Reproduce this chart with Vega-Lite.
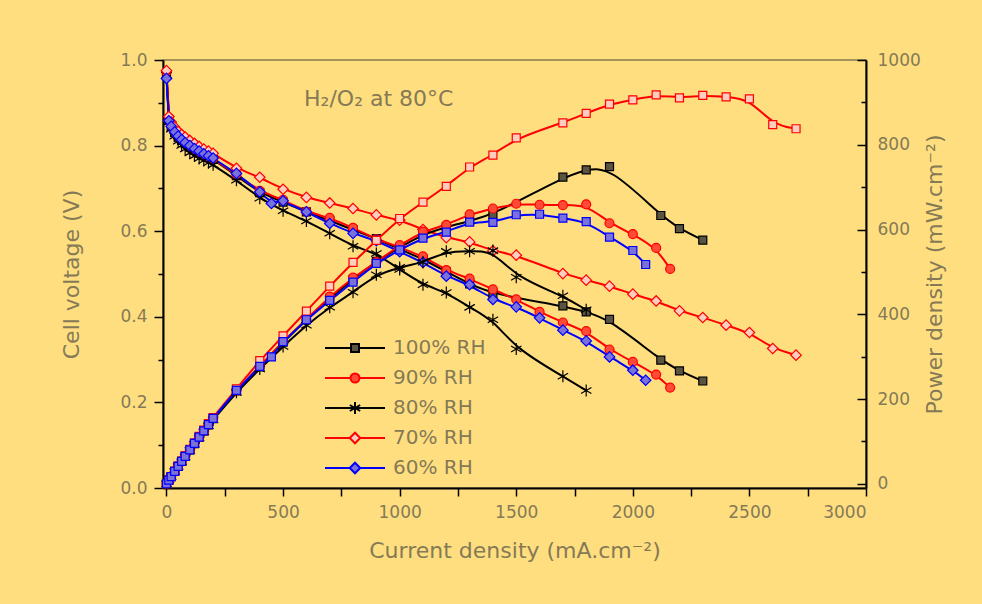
{
"$schema": "https://vega.github.io/schema/vega-lite/v6.json",
"width": 703, "height": 428,
"autosize": {"type": "none"},
"padding": {"left": 163, "top": 60, "right": 116, "bottom": 116},
"background": "#FFDE80",
"config": {
 "view": {"stroke": "#857A4E", "strokeWidth": 1.5},
 "axis": {"grid": false, "labelFont": "DejaVu Sans", "titleFont": "DejaVu Sans", "labelColor": "#857A55", "titleColor": "#857A55", "labelFontSize": 17, "titleFontSize": 22, "titleFontWeight": "normal", "domainColor": "#000000", "tickColor": "#000000", "domainWidth": 2, "tickWidth": 1.5},
 "legend": {"orient": "none", "legendX": 207, "legendY": 278, "labelFont": "DejaVu Sans", "labelFontSize": 20, "labelColor": "#857A55", "symbolSize": 100, "symbolStrokeWidth": 2, "rowPadding": 10, "labelOffset": 3, "padding": 0, "symbolOpacity": 1}
},
"datasets": {
 "ann": [{"label": "H₂/O₂ at 80°C", "I": 590, "V": 0.893}],
 "pts": [
{"rh":"100% RH","I":0,"V":0.968,"P":0},{"rh":"100% RH","I":10,"V":0.86,"P":8.6},{"rh":"100% RH","I":20,"V":0.845,"P":16.9},{"rh":"100% RH","I":35,"V":0.83,"P":29.1},{"rh":"100% RH","I":50,"V":0.82,"P":41},{"rh":"100% RH","I":65,"V":0.812,"P":52.8},{"rh":"100% RH","I":80,"V":0.805,"P":64.4},{"rh":"100% RH","I":100,"V":0.797,"P":79.7},{"rh":"100% RH","I":120,"V":0.79,"P":94.8},{"rh":"100% RH","I":140,"V":0.784,"P":109.8},{"rh":"100% RH","I":160,"V":0.778,"P":124.5},{"rh":"100% RH","I":180,"V":0.773,"P":139.1},{"rh":"100% RH","I":200,"V":0.768,"P":153.6},{"rh":"100% RH","I":300,"V":0.73,"P":219},{"rh":"100% RH","I":400,"V":0.69,"P":276},{"rh":"100% RH","I":500,"V":0.668,"P":334},{"rh":"100% RH","I":600,"V":0.645,"P":387},{"rh":"100% RH","I":700,"V":0.625,"P":437.5},{"rh":"100% RH","I":800,"V":0.603,"P":482.4},{"rh":"100% RH","I":900,"V":0.583,"P":524.7},{"rh":"100% RH","I":1000,"V":0.558,"P":558},{"rh":"100% RH","I":1100,"V":0.535,"P":588.5},{"rh":"100% RH","I":1200,"V":0.505,"P":606},{"rh":"100% RH","I":1300,"V":0.477,"P":620.1},{"rh":"100% RH","I":1400,"V":0.453,"P":634.2},{"rh":"100% RH","I":1700,"V":0.4255,"P":723.4},{"rh":"100% RH","I":1800,"V":0.4115,"P":740.7},{"rh":"100% RH","I":1900,"V":0.394,"P":748.6},{"rh":"100% RH","I":2120,"V":0.2986,"P":633},{"rh":"100% RH","I":2200,"V":0.2736,"P":601.9},{"rh":"100% RH","I":2300,"V":0.25,"P":575},
{"rh":"90% RH","I":0,"V":0.972,"P":0},{"rh":"90% RH","I":10,"V":0.865,"P":8.7},{"rh":"90% RH","I":20,"V":0.848,"P":17},{"rh":"90% RH","I":35,"V":0.833,"P":29.2},{"rh":"90% RH","I":50,"V":0.822,"P":41.1},{"rh":"90% RH","I":65,"V":0.814,"P":52.9},{"rh":"90% RH","I":80,"V":0.807,"P":64.6},{"rh":"90% RH","I":100,"V":0.799,"P":79.9},{"rh":"90% RH","I":120,"V":0.792,"P":95},{"rh":"90% RH","I":140,"V":0.786,"P":110},{"rh":"90% RH","I":160,"V":0.78,"P":124.8},{"rh":"90% RH","I":180,"V":0.775,"P":139.5},{"rh":"90% RH","I":200,"V":0.77,"P":154},{"rh":"90% RH","I":300,"V":0.732,"P":219.6},{"rh":"90% RH","I":400,"V":0.694,"P":277.6},{"rh":"90% RH","I":500,"V":0.673,"P":336.5},{"rh":"90% RH","I":600,"V":0.646,"P":387.6},{"rh":"90% RH","I":700,"V":0.631,"P":441.7},{"rh":"90% RH","I":800,"V":0.608,"P":486.4},{"rh":"90% RH","I":900,"V":0.581,"P":522.9},{"rh":"90% RH","I":1000,"V":0.563,"P":563},{"rh":"90% RH","I":1100,"V":0.541,"P":595.1},{"rh":"90% RH","I":1200,"V":0.509,"P":610.8},{"rh":"90% RH","I":1300,"V":0.489,"P":635.7},{"rh":"90% RH","I":1400,"V":0.464,"P":649.6},{"rh":"90% RH","I":1500,"V":0.4405,"P":660.8},{"rh":"90% RH","I":1600,"V":0.4115,"P":658.4},{"rh":"90% RH","I":1700,"V":0.3867,"P":657.4},{"rh":"90% RH","I":1800,"V":0.3664,"P":659.5},{"rh":"90% RH","I":1900,"V":0.3236,"P":614.8},{"rh":"90% RH","I":2000,"V":0.2946,"P":589.2},{"rh":"90% RH","I":2100,"V":0.265,"P":556.5},{"rh":"90% RH","I":2160,"V":0.2347,"P":507},
{"rh":"80% RH","I":0,"V":0.965,"P":0},{"rh":"80% RH","I":10,"V":0.855,"P":8.6},{"rh":"80% RH","I":20,"V":0.838,"P":16.8},{"rh":"80% RH","I":35,"V":0.822,"P":28.8},{"rh":"80% RH","I":50,"V":0.81,"P":40.5},{"rh":"80% RH","I":65,"V":0.8,"P":52},{"rh":"80% RH","I":80,"V":0.792,"P":63.4},{"rh":"80% RH","I":100,"V":0.783,"P":78.3},{"rh":"80% RH","I":120,"V":0.776,"P":93.1},{"rh":"80% RH","I":140,"V":0.77,"P":107.8},{"rh":"80% RH","I":160,"V":0.765,"P":122.4},{"rh":"80% RH","I":180,"V":0.76,"P":136.8},{"rh":"80% RH","I":200,"V":0.755,"P":151},{"rh":"80% RH","I":300,"V":0.719,"P":215.7},{"rh":"80% RH","I":400,"V":0.677,"P":270.8},{"rh":"80% RH","I":500,"V":0.648,"P":324},{"rh":"80% RH","I":600,"V":0.6236,"P":374.2},{"rh":"80% RH","I":700,"V":0.595,"P":416.5},{"rh":"80% RH","I":800,"V":0.565,"P":452},{"rh":"80% RH","I":900,"V":0.548,"P":493.2},{"rh":"80% RH","I":1000,"V":0.5106,"P":510.6},{"rh":"80% RH","I":1100,"V":0.475,"P":522.5},{"rh":"80% RH","I":1200,"V":0.457,"P":548.4},{"rh":"80% RH","I":1300,"V":0.422,"P":548.6},{"rh":"80% RH","I":1400,"V":0.393,"P":550.2},{"rh":"80% RH","I":1500,"V":0.325,"P":487.5},{"rh":"80% RH","I":1700,"V":0.261,"P":443.7},{"rh":"80% RH","I":1800,"V":0.228,"P":410.4},
{"rh":"70% RH","I":0,"V":0.975,"P":0},{"rh":"70% RH","I":10,"V":0.868,"P":8.7},{"rh":"70% RH","I":20,"V":0.855,"P":17.1},{"rh":"70% RH","I":35,"V":0.843,"P":29.5},{"rh":"70% RH","I":50,"V":0.833,"P":41.7},{"rh":"70% RH","I":65,"V":0.826,"P":53.7},{"rh":"70% RH","I":80,"V":0.82,"P":65.6},{"rh":"70% RH","I":100,"V":0.812,"P":81.2},{"rh":"70% RH","I":120,"V":0.805,"P":96.6},{"rh":"70% RH","I":140,"V":0.798,"P":111.7},{"rh":"70% RH","I":160,"V":0.792,"P":126.7},{"rh":"70% RH","I":180,"V":0.787,"P":141.7},{"rh":"70% RH","I":200,"V":0.782,"P":156.4},{"rh":"70% RH","I":300,"V":0.747,"P":224.1},{"rh":"70% RH","I":400,"V":0.726,"P":290.4},{"rh":"70% RH","I":500,"V":0.698,"P":349},{"rh":"70% RH","I":600,"V":0.679,"P":407.4},{"rh":"70% RH","I":700,"V":0.666,"P":466.2},{"rh":"70% RH","I":800,"V":0.653,"P":522.4},{"rh":"70% RH","I":900,"V":0.638,"P":574.2},{"rh":"70% RH","I":1000,"V":0.626,"P":626},{"rh":"70% RH","I":1100,"V":0.604,"P":664.4},{"rh":"70% RH","I":1200,"V":0.585,"P":702},{"rh":"70% RH","I":1300,"V":0.575,"P":747.5},{"rh":"70% RH","I":1400,"V":0.554,"P":775.6},{"rh":"70% RH","I":1500,"V":0.544,"P":816},{"rh":"70% RH","I":1700,"V":0.501,"P":851.7},{"rh":"70% RH","I":1800,"V":0.4856,"P":874.1},{"rh":"70% RH","I":1900,"V":0.4716,"P":896},{"rh":"70% RH","I":2000,"V":0.4529,"P":905.8},{"rh":"70% RH","I":2100,"V":0.437,"P":917.7},{"rh":"70% RH","I":2200,"V":0.4139,"P":910.6},{"rh":"70% RH","I":2300,"V":0.3984,"P":916.3},{"rh":"70% RH","I":2400,"V":0.3804,"P":913},{"rh":"70% RH","I":2500,"V":0.3633,"P":908.3},{"rh":"70% RH","I":2600,"V":0.3259,"P":847.3},{"rh":"70% RH","I":2700,"V":0.3103,"P":837.8},
{"rh":"60% RH","I":0,"V":0.957,"P":0},{"rh":"60% RH","I":10,"V":0.858,"P":8.6},{"rh":"60% RH","I":20,"V":0.845,"P":16.9},{"rh":"60% RH","I":35,"V":0.832,"P":29.1},{"rh":"60% RH","I":50,"V":0.822,"P":41.1},{"rh":"60% RH","I":65,"V":0.814,"P":52.9},{"rh":"60% RH","I":80,"V":0.807,"P":64.6},{"rh":"60% RH","I":100,"V":0.8,"P":80},{"rh":"60% RH","I":120,"V":0.793,"P":95.2},{"rh":"60% RH","I":140,"V":0.787,"P":110.2},{"rh":"60% RH","I":160,"V":0.781,"P":125},{"rh":"60% RH","I":180,"V":0.776,"P":139.7},{"rh":"60% RH","I":200,"V":0.771,"P":154.2},{"rh":"60% RH","I":300,"V":0.735,"P":220.5},{"rh":"60% RH","I":400,"V":0.692,"P":276.8},{"rh":"60% RH","I":450,"V":0.665,"P":299.3},{"rh":"60% RH","I":500,"V":0.671,"P":335.5},{"rh":"60% RH","I":600,"V":0.645,"P":387},{"rh":"60% RH","I":700,"V":0.618,"P":432.6},{"rh":"60% RH","I":800,"V":0.595,"P":476},{"rh":"60% RH","I":900,"V":0.578,"P":520.2},{"rh":"60% RH","I":1000,"V":0.552,"P":552},{"rh":"60% RH","I":1100,"V":0.527,"P":579.7},{"rh":"60% RH","I":1200,"V":0.495,"P":594},{"rh":"60% RH","I":1300,"V":0.475,"P":617.5},{"rh":"60% RH","I":1400,"V":0.4405,"P":616.7},{"rh":"60% RH","I":1500,"V":0.4232,"P":634.8},{"rh":"60% RH","I":1600,"V":0.3975,"P":636},{"rh":"60% RH","I":1700,"V":0.3687,"P":626.8},{"rh":"60% RH","I":1800,"V":0.3437,"P":618.7},{"rh":"60% RH","I":1900,"V":0.3063,"P":582},{"rh":"60% RH","I":2000,"V":0.2752,"P":550.4},{"rh":"60% RH","I":2055,"V":0.2518,"P":517.4}
 ]
},
"data": {"name": "pts"},
"layer": [
 {
  "layer": [
   {
    "mark": {"type": "line", "interpolate": "basis", "strokeWidth": 2},
    "encoding": {
     "x": {"field": "I", "type": "quantitative", "scale": {"domain": [-15, 3000], "nice": false, "zero": false}, "axis": {"values": [0,250,500,750,1000,1250,1500,1750,2000,2250,2500,2750,3000], "format": "d", "labelExpr": "datum.value % 500 == 0 ? datum.label : ''", "tickSize": 8, "labelPadding": 8, "title": "Current density (mA.cm⁻²)", "titlePadding": 20}},
     "y": {"field": "V", "type": "quantitative", "scale": {"domain": [0, 1], "nice": false}, "axis": {"values": [0,0.1,0.2,0.3,0.4,0.5,0.6,0.7,0.8,0.9,1.0], "format": ".1f", "labelExpr": "round(datum.value*10) % 2 == 1 ? '' : datum.label", "tickSize": {"condition": {"test": "round(datum.value*10) % 2 == 1", "value": 5}, "value": 9}, "labelPadding": 7, "title": "Cell voltage (V)", "titlePadding": 36}},
     "stroke": {"field": "rh", "type": "nominal", "scale": {"domain": ["100% RH","90% RH","80% RH","70% RH","60% RH"], "range": ["#000000","#FF0000","#000000","#FF0000","#0000FF"]}, "legend": null}
    }
   },
   {
    "mark": {"type": "point", "filled": true, "size": 100, "strokeWidth": 1.2, "opacity": 1},
    "encoding": {
     "x": {"field": "I", "type": "quantitative"},
     "y": {"field": "V", "type": "quantitative"},
     "stroke": {"field": "rh", "type": "nominal", "legend": null},
     "fill": {"field": "rh", "type": "nominal", "scale": {"domain": ["100% RH","90% RH","80% RH","70% RH","60% RH"], "range": ["#5B5441","#FF4A35","#000000","#FFCDBE","#7A72D8"]}, "legend": null},
     "shape": {"field": "rh", "type": "nominal", "scale": {"domain": ["100% RH","90% RH","80% RH","70% RH","60% RH"], "range": ["M-0.8,-0.8L0.8,-0.8L0.8,0.8L-0.8,0.8Z","M-0.9,0A0.9,0.9,0,1,0,0.9,0A0.9,0.9,0,1,0,-0.9,0Z","M0,-1.2L0,1.2M-1.04,-0.6L1.04,0.6M-1.04,0.6L1.04,-0.6","M-1.05,0L0,-1.05L1.05,0L0,1.05Z","M-1.05,0L0,-1.05L1.05,0L0,1.05Z"]}, "legend": null}
    }
   },
   {
    "data": {"name": "ann"},
    "mark": {"type": "text", "align": "left", "baseline": "alphabetic", "font": "DejaVu Sans", "fontSize": 22, "color": "#857A55"},
    "encoding": {
     "x": {"field": "I", "type": "quantitative"},
     "y": {"field": "V", "type": "quantitative"},
     "text": {"field": "label"}
    }
   }
  ]
 },
 {
  "layer": [
   {
    "mark": {"type": "line", "interpolate": "basis", "strokeWidth": 2},
    "encoding": {
     "x": {"field": "I", "type": "quantitative"},
     "y": {"field": "P", "type": "quantitative", "scale": {"domain": [-10, 1000], "nice": false, "zero": false}, "axis": {"orient": "right", "values": [0,100,200,300,400,500,600,700,800,900,1000], "format": "d", "labelExpr": "datum.value % 200 == 0 ? datum.label : ''", "tickSize": {"condition": {"test": "datum.value % 200 != 0", "value": -5}, "value": -9}, "labelPadding": 20, "title": "Power density (mW.cm⁻²)", "titleAngle": 270, "titlePadding": 26}},
     "stroke": {"field": "rh", "type": "nominal", "scale": {"domain": ["100% RH","90% RH","80% RH","70% RH","60% RH"], "range": ["#000000","#FF0000","#000000","#FF0000","#0000FF"]}, "legend": null}
    }
   },
   {
    "mark": {"type": "point", "filled": true, "size": 100, "strokeWidth": 1.2, "opacity": 1},
    "encoding": {
     "x": {"field": "I", "type": "quantitative"},
     "y": {"field": "P", "type": "quantitative"},
     "stroke": {"field": "rh", "type": "nominal", "legend": null},
     "fill": {"field": "rh", "type": "nominal", "scale": {"domain": ["100% RH","90% RH","80% RH","70% RH","60% RH"], "range": ["#5B5441","#FF4A35","#000000","#FFCDBE","#7A72D8"]}, "legend": null},
     "shape": {"field": "rh", "type": "nominal", "scale": {"domain": ["100% RH","90% RH","80% RH","70% RH","60% RH"], "range": ["M-0.8,-0.8L0.8,-0.8L0.8,0.8L-0.8,0.8Z","M-0.9,0A0.9,0.9,0,1,0,0.9,0A0.9,0.9,0,1,0,-0.9,0Z","M0,-1.2L0,1.2M-1.04,-0.6L1.04,0.6M-1.04,0.6L1.04,-0.6","M-0.8,-0.8L0.8,-0.8L0.8,0.8L-0.8,0.8Z","M-0.8,-0.8L0.8,-0.8L0.8,0.8L-0.8,0.8Z"]}, "legend": null}
    }
   }
  ]
 },
 {
  "mark": {"type": "point", "filled": true, "size": 100, "opacity": 0},
  "encoding": {
   "x": {"field": "I", "type": "quantitative"},
   "y": {"field": "V", "type": "quantitative", "axis": null},
   "stroke": {"field": "rh", "type": "nominal", "scale": {"domain": ["100% RH","90% RH","80% RH","70% RH","60% RH"], "range": ["#000000","#FF0000","#000000","#FF0000","#0000FF"]}, "legend": {"title": null}},
   "fill": {"field": "rh", "type": "nominal", "scale": {"domain": ["100% RH","90% RH","80% RH","70% RH","60% RH"], "range": ["#5B5441","#FF4A35","#000000","#FFCDBE","#7A72D8"]}, "legend": {"title": null}},
   "shape": {"field": "rh", "type": "nominal", "scale": {"domain": ["100% RH","90% RH","80% RH","70% RH","60% RH"], "range": ["M-11,0L-5.8,0M-4.2,0L1,0M-5.8,-0.8L-4.2,-0.8L-4.2,0.8L-5.8,0.8Z","M-11,0L-5.9,0M-4.1,0L1,0M-5.9,0A0.9,0.9,0,1,0,-4.1,0A0.9,0.9,0,1,0,-5.9,0Z","M-11,0L1,0M-5,-1.2L-5,1.2M-6.04,-0.6L-3.96,0.6M-6.04,0.6L-3.96,-0.6","M-11,0L-6.05,0M-3.95,0L1,0M-6.05,0L-5,-1.05L-3.95,0L-5,1.05Z","M-11,0L-6.05,0M-3.95,0L1,0M-6.05,0L-5,-1.05L-3.95,0L-5,1.05Z"]}, "legend": {"title": null}}
  }
 }
],
"resolve": {"scale": {"y": "independent", "shape": "independent", "fill": "independent", "stroke": "independent"}}
}
